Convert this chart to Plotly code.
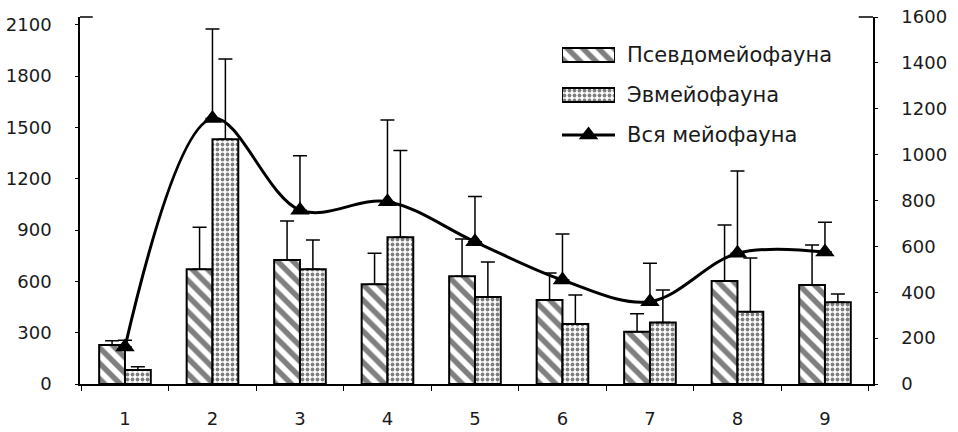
import plotly.graph_objects as go

categories = ["1", "2", "3", "4", "5", "6", "7", "8", "9"]
pseudo = [228, 671, 725, 583, 630, 491, 306, 602, 579]
pseudo_err = [25, 245, 228, 181, 218, 158, 105, 328, 234]
eu = [82, 1431, 671, 858, 509, 351, 359, 423, 478]
eu_err = [19, 468, 171, 507, 204, 169, 191, 313, 48]
total = [161, 1158, 758, 795, 620, 453, 359, 570, 575]
total_err = [30, 390, 237, 356, 197, 201, 167, 359, 130]

left_ticks = [0, 300, 600, 900, 1200, 1500, 1800, 2100]
right_ticks = [0, 200, 400, 600, 800, 1000, 1200, 1400, 1600]

names = ["Псевдомейофауна", "Эвмейофауна", "Вся мейофауна"]

FONT = "DejaVu Sans"
INK = "#1a1a1a"

hatch = dict(color="white", line=dict(color="black", width=2),
             pattern=dict(shape="\\", fgcolor="black", bgcolor="white",
                          size=11, solidity=0.5))
dots = dict(color="white", line=dict(color="black", width=2),
            pattern=dict(shape=".", fgcolor="black", bgcolor="white",
                         size=5, solidity=0.45))
errstyle = dict(type="data", symmetric=False, color="black", thickness=1.5, width=7)

fig = go.Figure()

fig.add_trace(go.Bar(
    x=categories, y=pseudo, name=names[0], showlegend=False, marker=hatch,
    error_y=dict(array=pseudo_err, arrayminus=[0]*9, **errstyle),
))
fig.add_trace(go.Bar(
    x=categories, y=eu, name=names[1], showlegend=False, marker=dots,
    error_y=dict(array=eu_err, arrayminus=[0]*9, **errstyle),
))
fig.add_trace(go.Scatter(
    x=categories, y=total, name=names[2], showlegend=False, yaxis="y2",
    mode="lines+markers",
    line=dict(color="black", width=3, shape="spline", smoothing=1.0),
    marker=dict(symbol="triangle-up", size=17, color="black"),
    error_y=dict(array=total_err, arrayminus=[0]*9, **errstyle),
))

# hand-made legend (wide pattern swatches) on a hidden axis pair
legend_rows = [2, 1, 0]
fig.add_trace(go.Bar(x=[1], y=[legend_rows[0]], base=0, width=0.35, orientation="h",
                     marker=hatch, xaxis="x3", yaxis="y3", showlegend=False,
                     hoverinfo="skip"))
fig.add_trace(go.Bar(x=[1], y=[legend_rows[1]], base=0, width=0.35, orientation="h",
                     marker=dots, xaxis="x3", yaxis="y3", showlegend=False,
                     hoverinfo="skip"))
fig.add_trace(go.Scatter(x=[0, 1], y=[legend_rows[2]] * 2, mode="lines",
                         line=dict(color="black", width=3), xaxis="x3", yaxis="y3",
                         showlegend=False, hoverinfo="skip"))
fig.add_trace(go.Scatter(x=[0.5], y=[legend_rows[2]], mode="markers",
                         marker=dict(symbol="triangle-up", size=17, color="black"),
                         xaxis="x3", yaxis="y3", showlegend=False, hoverinfo="skip",
                         cliponaxis=False))

annotations = [
    dict(xref="x3", yref="y3", x=1, y=r, text=n, showarrow=False, xanchor="left",
         yanchor="middle", xshift=10, font=dict(family=FONT, size=21, color=INK))
    for r, n in zip(legend_rows, names)
]

fig.update_layout(
    width=958, height=432,
    margin=dict(l=80, r=85, t=17, b=48),
    paper_bgcolor="white", plot_bgcolor="white",
    barmode="group", bargap=0.41, bargroupgap=0,
    font=dict(family=FONT, size=18, color=INK),
    showlegend=False,
    xaxis=dict(type="category", range=[-0.514, 8.549],
               showline=True, linecolor="black", linewidth=1.5,
               ticks="outside", tickson="boundaries", ticklen=5, tickcolor="black",
               showgrid=False, zeroline=False, ticklabelstandoff=18,
               tickfont=dict(size=18), automargin=False),
    yaxis=dict(range=[0, 2145], tickvals=left_ticks, ticktext=[str(v) for v in left_ticks],
               showline=True, linecolor="black", linewidth=1.5,
               ticks="outside", ticklen=3, tickcolor="black",
               showgrid=False, zeroline=False, ticklabelstandoff=20, automargin=False),
    yaxis2=dict(range=[0, 1600], tickvals=right_ticks, ticktext=[str(v) for v in right_ticks],
                overlaying="y", side="right",
                showline=True, linecolor="black", linewidth=1.5,
                ticks="outside", ticklen=3, tickcolor="black",
                showgrid=False, zeroline=False, ticklabelstandoff=20, automargin=False),
    xaxis3=dict(domain=[0.6078, 0.6747], range=[0, 1], visible=False, fixedrange=True,
                anchor="y3"),
    yaxis3=dict(domain=[0.6458, 0.9292], range=[-0.3, 2.3], visible=False, fixedrange=True,
                anchor="x3"),
    annotations=annotations,
    shapes=[
        dict(type="line", xref="paper", yref="paper", x0=0, x1=0.016, y0=1, y1=1,
             line=dict(color="black", width=1.5)),
        dict(type="line", xref="paper", yref="paper", x0=0.982, x1=1, y0=1, y1=1,
             line=dict(color="black", width=1.5)),
    ],
)

fig.write_html("out.html")
